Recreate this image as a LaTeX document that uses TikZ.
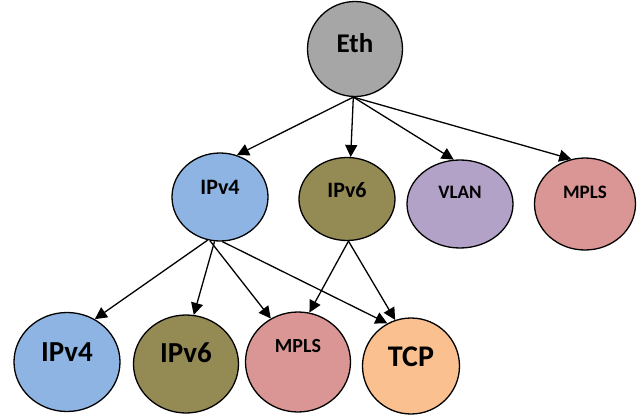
\documentclass[tikz,border=0pt]{standalone}
\usepackage{fontspec}
\setmainfont{Carlito}
\usetikzlibrary{shapes.geometric,arrows.meta}
\definecolor{cEth}{HTML}{A6A6A6}
\definecolor{cIPv4}{HTML}{8EB4E3}
\definecolor{cIPv6}{HTML}{948A54}
\definecolor{cVLAN}{HTML}{B3A2C7}
\definecolor{cMPLS}{HTML}{D99694}
\definecolor{cTCP}{HTML}{FAC090}
\tikzset{
  ell/.style={ellipse, draw=black, line width=1.3pt, inner sep=0pt},
  lbl/.style={font=\bfseries, text=black, inner sep=0pt},
  conn/.style={line width=1.3pt, -{Triangle[length=12pt,width=12pt]}, shorten >=0pt}
}
\begin{document}
\begin{tikzpicture}[x=1pt,y=-1pt]
\useasboundingbox (0,0) rectangle (641,418);
% nodes
\node[ell, fill=cEth, minimum width=95pt, minimum height=95pt] (eth) at (355,49) {};
\node[ell, fill=cIPv4, minimum width=96pt, minimum height=88pt] (ipv4m) at (220,197) {};
\node[ell, fill=cIPv6, minimum width=96pt, minimum height=83pt] (ipv6m) at (347,199) {};
\node[ell, fill=cVLAN, minimum width=106pt, minimum height=88pt] (vlan) at (460,204) {};
\node[ell, fill=cMPLS, minimum width=101pt, minimum height=92pt] (mplst) at (585,204) {};
\node[ell, fill=cIPv4, minimum width=106pt, minimum height=99pt] (ipv4b) at (67,362) {};
\node[ell, fill=cIPv6, minimum width=105pt, minimum height=98pt] (ipv6b) at (186,364) {};
\node[ell, fill=cMPLS, minimum width=105pt, minimum height=100pt] (mplsb) at (298,362) {};
\node[ell, fill=cTCP, minimum width=97pt, minimum height=96pt] (tcp) at (411,366) {};
% labels
\node[lbl, font=\bfseries\fontsize{27}{27}\selectfont] (tEth) at (355,43) {Eth};
\node[lbl, font=\bfseries\fontsize{22}{22}\selectfont] (tIPv4m) at (220,187) {IPv4};
\node[lbl, font=\bfseries\fontsize{22}{22}\selectfont] (tIPv6m) at (347,190) {IPv6};
\node[lbl, font=\bfseries\fontsize{19}{19}\selectfont] (tVLAN) at (460,192) {VLAN};
\node[lbl, font=\bfseries\fontsize{19}{19}\selectfont] (tMPLSt) at (585,192) {MPLS};
\node[lbl, font=\bfseries\fontsize{29}{29}\selectfont] (tIPv4b) at (67,352) {IPv4};
\node[lbl, font=\bfseries\fontsize{29}{29}\selectfont] (tIPv6b) at (186,353) {IPv6};
\node[lbl, font=\bfseries\fontsize{20}{20}\selectfont] (tMPLSb) at (298,346) {MPLS};
\node[lbl, font=\bfseries\fontsize{30}{30}\selectfont] (tTCP) at (411,357) {TCP};
% connectors
\draw[conn] (eth.-92) -- (ipv4m.68);
\draw[conn] (eth.-92) -- (ipv6m.85);
\draw[conn] (eth.-92) -- (vlan.98);
\draw[conn] (eth.-92) -- (mplst.107);
\draw[conn] (ipv4m.-106) -- (ipv4b.57);
\draw[conn] (ipv4m.-97) -- (ipv6b.81);
\draw[conn] (ipv4m.-103) -- (mplsb.122);
\draw[conn] (ipv4m.-87) -- (tcp.119);
\draw[conn] (ipv6m.-88) -- (mplsb.77);
\draw[conn] (ipv6m.-88) -- (tcp.109);
\end{tikzpicture}
\end{document}
